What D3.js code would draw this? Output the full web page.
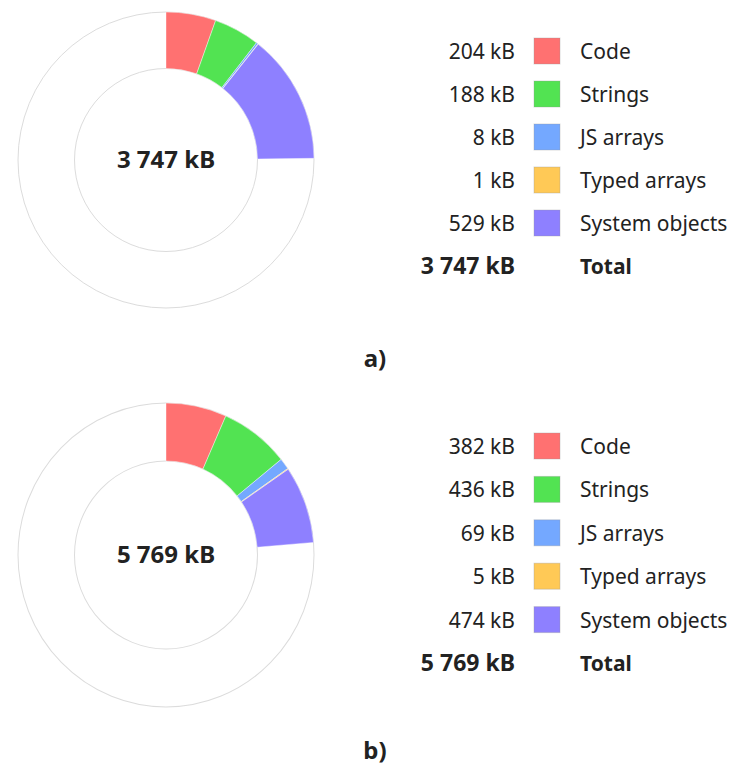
<!DOCTYPE html>
<html lang="en">

<head>
  <meta charset="utf-8">
  <title>Heap statistics</title>
  <script src="https://d3js.org/d3.v7.min.js" charset="utf-8"></script>
  <style type="text/css">
    body {
      margin: 0;
      background: #fff;
    }

    text {
      font-family: "Noto Sans", "Open Sans", sans-serif;
      fill: #222;
    }
  </style>
</head>

<body>

  <svg id="chart" class="chart"></svg>

  <script type="text/javascript">
    // categories shared by both snapshots
    const categories = ["Code", "Strings", "JS arrays", "Typed arrays", "System objects"];
    const colors = ["#ff7171", "#52e352", "#74a8ff", "#ffc956", "#8e80ff"];

    // snapshot a)
    const valuesA = [204, 188, 8, 1, 529];
    const totalA = 3747;
    // snapshot b)
    const valuesB = [382, 436, 69, 5, 474];
    const totalB = 5769;

    const panelLabels = ["a)", "b)"];

    const maxWidth = 740;
    const maxHeight = 769;

    const svg = d3.select("#chart")
      .attr("width", maxWidth)
      .attr("height", maxHeight);

    const color = d3.scaleOrdinal()
      .domain(categories)
      .range(colors);

    const fmt = (v) => d3.format(",")(v).replace(/,/g, " ") + " kB";

    const panels = [
      { values: valuesA, total: totalA, cx: 166, cy: 160, sy: 1, rows: [51, 266], labelY: 367 },
      { values: valuesB, total: totalB, cx: 166, cy: 555, sy: 1.027, rows: [446, 663], labelY: 759 }
    ];

    const outerR = 148;
    const innerR = 91.5;

    panels.forEach(function (p, idx) {
      const data = categories.map((c, i) => ({ name: c, value: p.values[i] }));

      // angle scale: whole ring = total heap size
      const angle = d3.scaleLinear()
        .domain([0, p.total])
        .range([0, 2 * Math.PI]);

      let acc = 0;
      const slices = data.map(function (d) {
        const s = { name: d.name, value: d.value, startAngle: angle(acc), endAngle: angle(acc + d.value) };
        acc += d.value;
        return s;
      });

      const arc = d3.arc()
        .innerRadius(innerR)
        .outerRadius(outerR);

      const donut = svg.append('g')
        .attr('transform', `translate(${p.cx}, ${p.cy}) scale(1, ${p.sy})`);

      donut.append('circle')
        .attr('r', outerR)
        .attr('fill', 'none')
        .attr('stroke', '#dcdcdc')
        .attr('stroke-width', 1);

      donut.append('circle')
        .attr('r', innerR)
        .attr('fill', 'none')
        .attr('stroke', '#dcdcdc')
        .attr('stroke-width', 1);

      donut.selectAll()
        .data(slices)
        .enter()
        .append('path')
        .attr('d', arc)
        .attr('fill', (d) => color(d.name))
        .attr('stroke', '#fff')
        .attr('stroke-width', 0.4);

      svg.append('text')
        .attr('x', p.cx)
        .attr('y', p.cy + 8)
        .attr('text-anchor', 'middle')
        .attr('font-size', '24px')
        .attr('font-weight', 'bold')
        .text(fmt(p.total));

      // legend
      const yScale = d3.scalePoint()
        .domain(categories.concat(["Total"]))
        .range(p.rows);

      const legend = svg.append('g');

      legend.selectAll()
        .data(data)
        .enter()
        .append('text')
        .attr('x', 515)
        .attr('y', (d) => yScale(d.name) + 8)
        .attr('text-anchor', 'end')
        .attr('font-size', '21px')
        .attr('fill', '#333')
        .text((d) => fmt(d.value));

      legend.selectAll()
        .data(data)
        .enter()
        .append('rect')
        .attr('x', 534)
        .attr('y', (d) => yScale(d.name) - 13)
        .attr('width', 26)
        .attr('height', 26)
        .attr('fill', (d) => color(d.name))
        .attr('stroke', d3.color('#999').copy({ opacity: 0.35 }))
        .attr('stroke-width', 1);

      legend.selectAll()
        .data(data)
        .enter()
        .append('text')
        .attr('x', 580)
        .attr('y', (d) => yScale(d.name) + 8)
        .attr('font-size', '21px')
        .attr('fill', '#333')
        .text((d) => d.name);

      legend.append('text')
        .attr('x', 515)
        .attr('y', yScale("Total") + 8)
        .attr('text-anchor', 'end')
        .attr('font-size', '23px')
        .attr('font-weight', 'bold')
        .text(fmt(p.total));

      legend.append('text')
        .attr('x', 580)
        .attr('y', yScale("Total") + 8)
        .attr('font-size', '21px')
        .attr('font-weight', 'bold')
        .text("Total");

      svg.append('text')
        .attr('x', 375)
        .attr('y', p.labelY)
        .attr('text-anchor', 'middle')
        .attr('font-size', '24px')
        .attr('font-weight', 'bold')
        .attr('fill', '#000')
        .text(panelLabels[idx]);
    });
  </script>
</body>

</html>
